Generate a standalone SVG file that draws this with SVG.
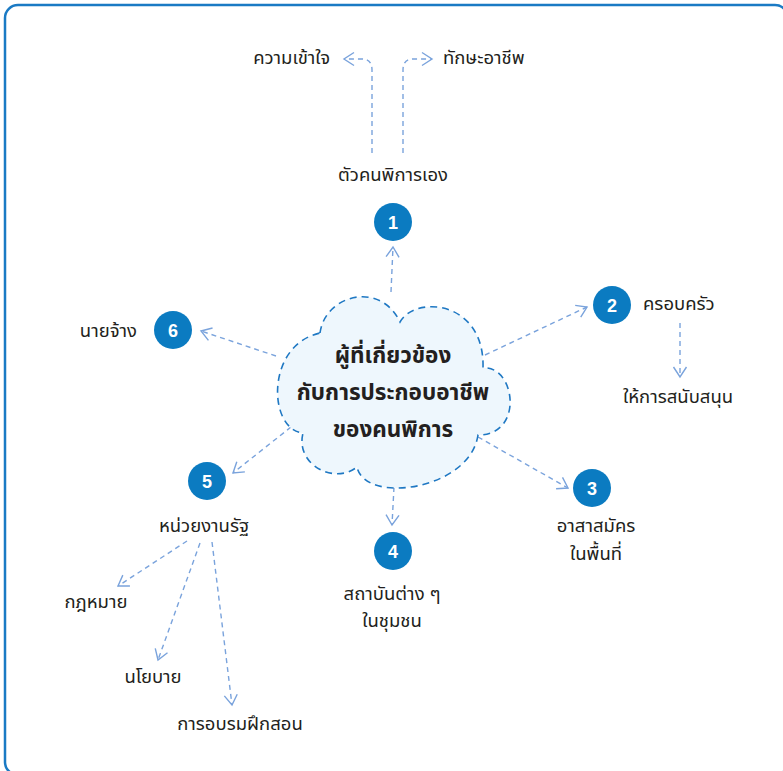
<svg xmlns="http://www.w3.org/2000/svg" width="783" height="771" viewBox="0 0 783 771">
<defs>
<style>
.lbl{font-family:"Noto Sans Thai","Noto Sans","DejaVu Sans",sans-serif;font-size:18.5px;fill:#231f20}
.ttl{font-family:"Noto Sans Thai","Noto Sans","DejaVu Sans",sans-serif;font-size:22.5px;font-weight:bold;fill:#231f20}
.num{font-family:"Liberation Sans",Arial,sans-serif;font-size:18px;font-weight:bold;fill:#ffffff}
.badge{fill:#0b7bc1}
.con{fill:none;stroke:#7aa3dc;stroke-width:1.4;stroke-dasharray:5 4;marker-end:url(#ah)}
</style>
<marker id="ah" viewBox="-12 -8 14 16" refX="0" refY="0" markerWidth="14" markerHeight="16" markerUnits="userSpaceOnUse" orient="auto" overflow="visible">
<path d="M-10,-6.5 L0,0 L-10,6.5" fill="none" stroke="#7aa3dc" stroke-width="1.4"/>
</marker>
</defs>
<rect x="5" y="5" width="783" height="770" rx="13" fill="#ffffff" stroke="#1a7ac4" stroke-width="2.5"/>

<g id="connectors">
<path class="con" d="M372,153 V70 Q372,59 362,59 H344"/>
<path class="con" d="M403,153 V70 Q403,59 413,59 H432"/>
<path class="con" d="M391,292 L393,247"/>
<path class="con" d="M485,355 L587,307"/>
<path class="con" d="M680,323 V377"/>
<path class="con" d="M478,437 L568,488"/>
<path class="con" d="M394,487 L392,525"/>
<path class="con" d="M291,427 L233,473"/>
<path class="con" d="M276,356 L201,331"/>
<path class="con" d="M187,541 L118,586"/>
<path class="con" d="M200,543 L158,660"/>
<path class="con" d="M212,542 L232,705"/>
</g>

<g id="center">
<path d="M320,333 C325,295 380,280 400,322 C415,295 485,300 483,368 C515,365 525,435 478,435 C470,490 365,505 357,467 C335,485 295,465 303,433 C268,430 265,345 320,333 Z" fill="#eef7fd" stroke="#1f78c3" stroke-width="1.6" stroke-dasharray="7 5"/>
<text class="ttl" x="393" y="363" text-anchor="middle">ผู้ที่เกี่ยวข้อง</text>
<text class="ttl" x="393" y="400" text-anchor="middle">กับการประกอบอาชีพ</text>
<text class="ttl" x="393" y="437" text-anchor="middle">ของคนพิการ</text>
</g>

<g id="n1">
<circle class="badge" cx="393" cy="222" r="19"/>
<text class="num" x="393" y="228.5" text-anchor="middle">1</text>
<text class="lbl" x="393" y="181" text-anchor="middle">ตัวคนพิการเอง</text>
</g>
<g id="n1a"><text class="lbl" x="330" y="64" text-anchor="end">ความเข้าใจ</text></g>
<g id="n1b"><text class="lbl" x="443" y="64">ทักษะอาชีพ</text></g>

<g id="n2">
<circle class="badge" cx="612" cy="305" r="19"/>
<text class="num" x="612" y="311.5" text-anchor="middle">2</text>
<text class="lbl" x="643" y="310">ครอบครัว</text>
</g>
<g id="n2a"><text class="lbl" x="678" y="403" text-anchor="middle">ให้การสนับสนุน</text></g>

<g id="n3">
<circle class="badge" cx="592" cy="488" r="19"/>
<text class="num" x="592" y="494.5" text-anchor="middle">3</text>
<text class="lbl" x="596" y="532" text-anchor="middle">อาสาสมัคร</text>
<text class="lbl" x="596" y="560" text-anchor="middle">ในพื้นที่</text>
</g>

<g id="n4">
<circle class="badge" cx="393" cy="551" r="19"/>
<text class="num" x="393" y="557.5" text-anchor="middle">4</text>
<text class="lbl" x="392" y="600" text-anchor="middle">สถาบันต่าง ๆ</text>
<text class="lbl" x="392" y="627" text-anchor="middle">ในชุมชน</text>
</g>

<g id="n5">
<circle class="badge" cx="207" cy="481" r="19"/>
<text class="num" x="207" y="487.5" text-anchor="middle">5</text>
<text class="lbl" x="204" y="532" text-anchor="middle">หน่วยงานรัฐ</text>
</g>
<g id="n5a"><text class="lbl" x="96" y="608" text-anchor="middle">กฎหมาย</text></g>
<g id="n5b"><text class="lbl" x="153" y="683" text-anchor="middle">นโยบาย</text></g>
<g id="n5c"><text class="lbl" x="240" y="730" text-anchor="middle">การอบรมฝึกสอน</text></g>

<g id="n6">
<circle class="badge" cx="173" cy="330" r="19"/>
<text class="num" x="173" y="336.5" text-anchor="middle">6</text>
<text class="lbl" x="137" y="337" text-anchor="end">นายจ้าง</text>
</g>
</svg>
